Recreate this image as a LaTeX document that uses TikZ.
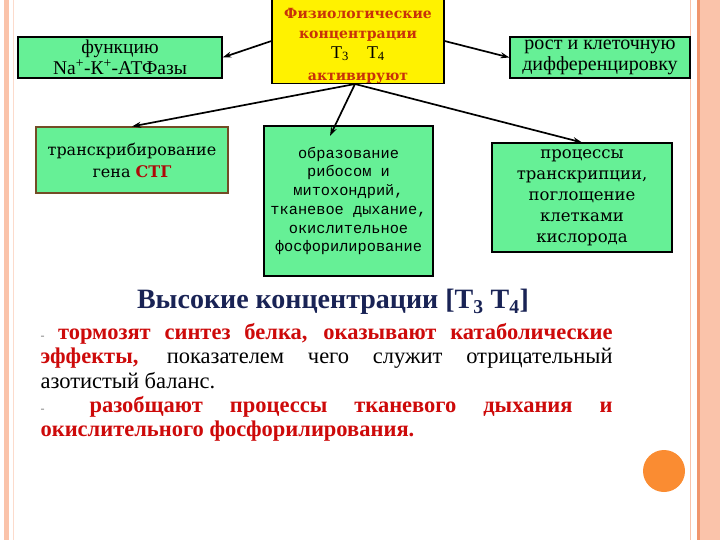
\documentclass[tikz,border=0pt]{standalone}
\usepackage{fontspec}
\setmainfont{Liberation Serif}
\newfontfamily\boxserif{DejaVu Serif}
\newfontfamily\boxmono{Liberation Mono}
\usetikzlibrary{arrows.meta}
\definecolor{mintbox}{RGB}{102,240,150}
\definecolor{hormred}{RGB}{200,50,10}
\definecolor{effred}{RGB}{205,10,10}
\definecolor{titlenavy}{RGB}{25,35,85}
\definecolor{edgesalmon}{RGB}{250,195,170}
\definecolor{edgeorange}{RGB}{240,150,110}
\definecolor{dotorange}{RGB}{250,140,50}

\begin{document}
\begin{tikzpicture}[x=1pt, y=-1pt, line width=1.1pt,
    effect/.style={draw=black, fill=mintbox, inner sep=0pt, align=center},
    hormone/.style={draw=black, fill=yellow, inner sep=0pt},
    arr/.style={-{Stealth[length=9pt, width=6pt]}, line width=1.7pt}]
  \useasboundingbox (0,0) rectangle (720,540);
  % slide edges
  \fill[edgesalmon] (3.5,0) rectangle (9,540);
  \draw[edgesalmon!60, line width=0.6pt] (13,0) -- (13,540);
  \fill[edgesalmon] (700,0) rectangle (720,540);
  \fill[edgeorange] (697,0) rectangle (700,540);
  \draw[edgesalmon, line width=1pt] (690,0) -- (690,540);
  % central hormone box
  \node[hormone, minimum width=172, minimum height=85] (horm) at (358,41) {};
  \node[align=center, inner sep=0pt, text=hormred,
        font=\boxserif\bfseries\fontsize{14}{20.5}\selectfont]
    (hormtext) at (358,46) {Физиологические\\концентрации\\[-1pt]
      {\normalfont\color{black}\fontsize{18}{20}\selectfont T\textsubscript{3}\quad T\textsubscript{4}}\\[2pt]
      активируют};
  % effect boxes, upper row
  \node[effect, minimum width=204, minimum height=41,
        font=\fontsize{19.5}{21.5}\selectfont] (nak) at (120,57.5)
    {функцию\\Na\textsuperscript{+}-К\textsuperscript{+}-АТФазы};
  \node[effect, minimum width=180, minimum height=41,
        font=\fontsize{20}{21.5}\selectfont] (growth) at (600,57.5)
    {рост и клеточную\\дифференцировку};
  % effect boxes, lower row
  \node[effect, draw=black!40!brown, minimum width=192, minimum height=66,
        font=\boxserif\fontsize{16}{22}\selectfont] (stg) at (132,160)
    {транскрибирование\\гена {\bfseries\color{effred!85!black}СТГ}};
  \node[effect, minimum width=169, minimum height=150,
        font=\boxmono\fontsize{15.3}{18.7}\selectfont] (mito) at (348.5,201)
    {образование\\рибосом и\\митохондрий,\\тканевое дыхание,\\окислительное\\фосфорилирование};
  \node[effect, minimum width=180, minimum height=109,
        font=\boxserif\fontsize{16.5}{21}\selectfont] (oxy) at (582,197.5)
    {процессы\\транскрипции,\\поглощение\\клетками\\кислорода};
  % arrows from the hormone box
  \coordinate (hb) at (355,84);
  \coordinate (mitotip) at (330,136);
  \draw[arr] (horm.west) -- (nak.east);
  \draw[arr] (horm.east) -- (growth.west);
  \draw[arr] (hb) -- (stg.north);
  \draw[arr] (hb) -- (mitotip);
  \draw[arr] (hb) -- (oxy.north);
  % high concentrations
  \node[font=\bfseries\fontsize{28}{30}\selectfont, text=titlenavy] (title) at (333,302)
    {Высокие концентрации [T\textsubscript{3} T\textsubscript{4}]};
  \node[anchor=north west, inner sep=0pt, text width=572, align=justify,
        font=\fontsize{22.5}{24.3}\selectfont] (effects) at (40,323)
    {{\color{gray}\fontsize{12}{12}\selectfont-}\hspace{0.6em}{\bfseries\color{effred}тормозят синтез белка, оказывают катаболические\linebreak эффекты,} показателем чего служит отрицательный азотистый баланс.\\
     {\color{gray}\fontsize{12}{12}\selectfont-}\hspace{2em}{\bfseries\color{effred}разобщают процессы тканевого дыхания и\linebreak окислительного фосфорилирования.}};
  % slide dot
  \fill[dotorange] (664,471) circle (21);
\end{tikzpicture}
\end{document}
